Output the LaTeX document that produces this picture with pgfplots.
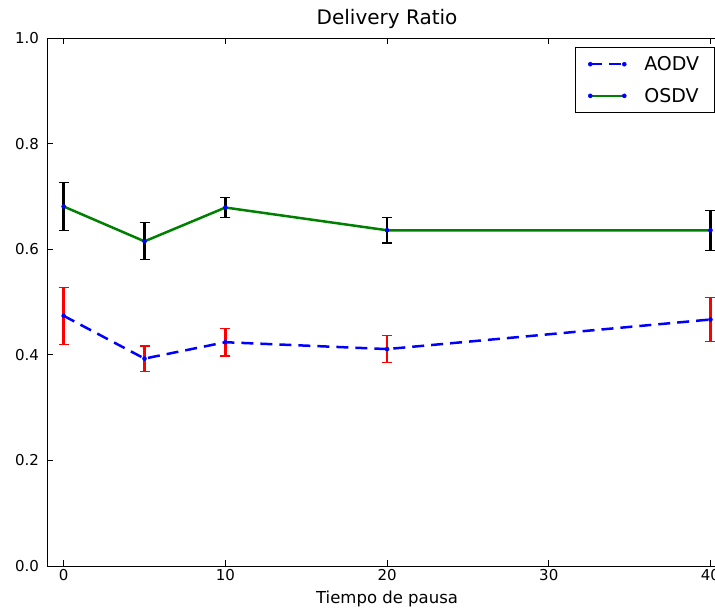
\documentclass[border=0pt]{standalone}
\usepackage{pgfplots}
\pgfplotsset{compat=1.18}
\usepackage{fontspec}
\setmainfont{DejaVu Sans}

\definecolor{mplgreen}{rgb}{0,0.5,0}

\begin{document}
\begin{tikzpicture}
\begin{axis}[
  scale only axis,
  width=679pt, height=528pt,
  xmin=-1, xmax=41, ymin=0, ymax=1,
  xtick={0,10,20,30,40},
  ytick={0,0.2,0.4,0.6,0.8,1.0},
  yticklabel style={xshift=-5pt, /pgf/number format/.cd, fixed, fixed zerofill, precision=1},
  /pgf/number format/assume math mode=true,
  tick label style={font=\fontsize{15}{18}\selectfont},
  major tick length=6pt,
  tick style={black, line width=0.8pt},
  axis line style={line width=1pt},
  title={Delivery Ratio},
  title style={font=\fontsize{20}{24}\selectfont},
  xlabel={Tiempo de pausa},
  xlabel style={font=\fontsize{16.5}{20}\selectfont, yshift=-3pt},
  legend style={at={(1,1)}, anchor=north east, xshift=-12pt, yshift=-9pt,
    draw=black, line width=0.8pt, font=\fontsize{19}{22}\selectfont,
    row sep=12pt, inner xsep=13pt, inner ysep=7pt, cells={anchor=west},
    /tikz/every odd column/.append style={column sep=16pt}},
  legend image code/.code={\draw[#1] plot coordinates {(0pt,0pt) (34pt,0pt)};},
]

% AODV: mean delivery ratio with its spread
\addplot[blue, line width=2.5pt, dash pattern=on 12pt off 7pt,
  mark=*, mark size=2pt, mark options={solid, blue, line width=0.5pt},
  error bars/.cd, y dir=both, y explicit,
  error bar style={red, line width=2.8pt, solid},
  error mark options={rotate=90, red, mark size=5pt, line width=1.2pt, solid}]
  table[x=x, y=y, y error=e] {
x  y      e
0  0.474  0.054
5  0.393  0.024
10 0.424  0.026
20 0.411  0.026
40 0.467  0.042
};
\addlegendentry{AODV}

% OSDV: mean delivery ratio with its spread
\addplot[mplgreen, line width=2.5pt,
  mark=*, mark size=2pt, mark options={solid, blue, line width=0.5pt},
  error bars/.cd, y dir=both, y explicit,
  error bar style={black, line width=2.8pt, solid},
  error mark options={rotate=90, black, mark size=5pt, line width=1.2pt, solid}]
  table[x=x, y=y, y error=e] {
x  y      e
0  0.681  0.046
5  0.615  0.035
10 0.679  0.019
20 0.636  0.024
40 0.636  0.038
};
\addlegendentry{OSDV}

\coordinate (bbSW) at (axis cs:-3.937,-0.0795);
\coordinate (bbNE) at (axis cs:40.28,1.072);
\end{axis}
\pgfresetboundingbox
\useasboundingbox (bbSW) rectangle (bbNE);
\end{tikzpicture}
\end{document}
